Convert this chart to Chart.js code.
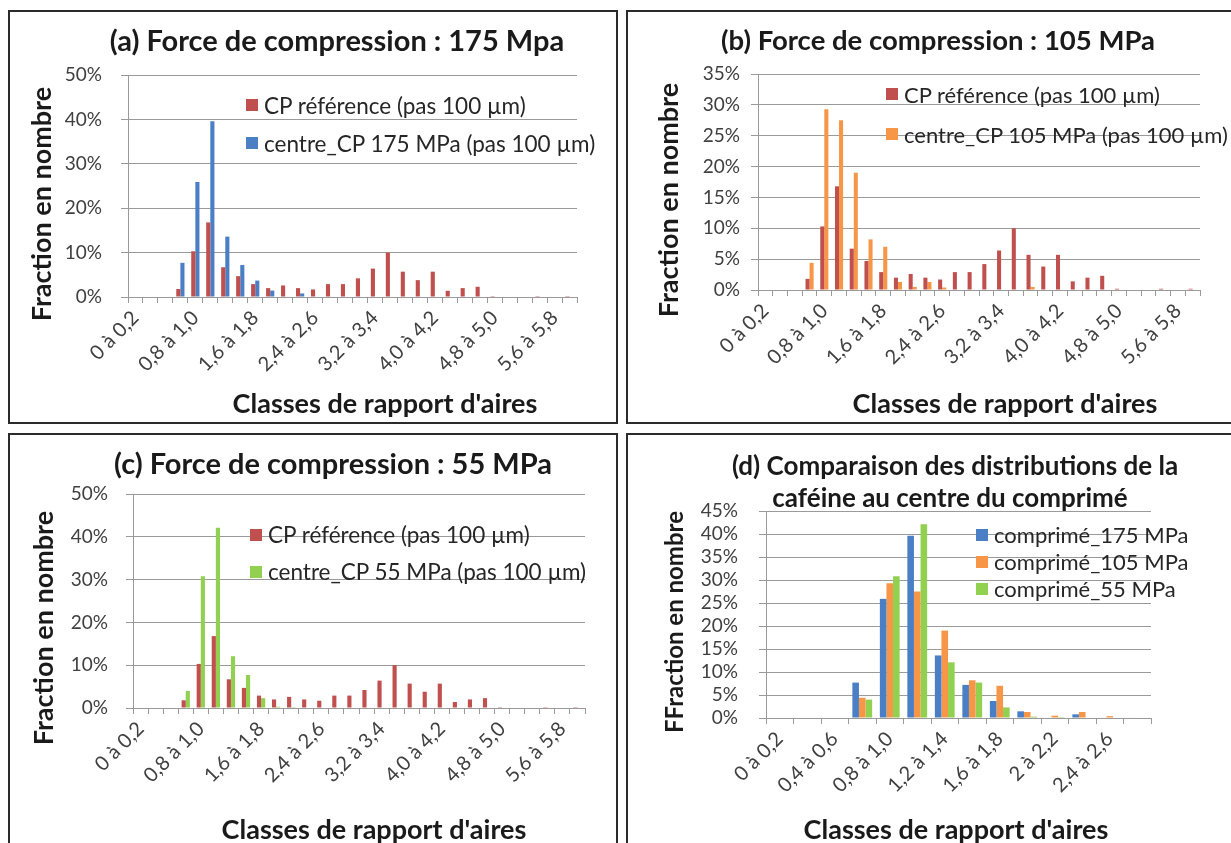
<!DOCTYPE html>
<html>
<head>
<meta charset="utf-8">
<script src="https://cdn.jsdelivr.net/npm/chart.js@4.4.0/dist/chart.umd.min.js"></script>
<style>
  body { margin: 0; width: 1231px; height: 843px; overflow: hidden; background: #fff; position: relative;
         font-family: Lato, "Open Sans", sans-serif; color: #1a1a1a; }
  .box { position: absolute; border: 2px solid #2b2b2b; box-sizing: border-box; }
  canvas { position: absolute; }
  .t { position: absolute; white-space: nowrap; font-weight: bold; transform: translate(-50%, -50%); }
  .rot { transform: translate(-50%, -50%) rotate(-90deg); }
  .leg { position: absolute; white-space: nowrap; color: #262626; }
  .leg div { display: flex; align-items: center; }
  .leg i { display: inline-block; width: 12px; height: 12px; margin-right: 6px; }
</style>
</head>
<body>
<div class="box" style="left:8px;top:10px;width:610px;height:414px"></div>
<div class="box" style="left:626px;top:10px;width:620px;height:414px"></div>
<div class="box" style="left:8px;top:433px;width:610px;height:420px"></div>
<div class="box" style="left:626px;top:433px;width:620px;height:420px"></div>

<canvas id="chartA" width="605" height="409" style="left:10px;top:12px"></canvas>
<canvas id="chartB" width="603" height="409" style="left:628px;top:12px"></canvas>
<canvas id="chartC" width="605" height="408" style="left:10px;top:435px"></canvas>
<canvas id="chartD" width="603" height="408" style="left:628px;top:435px"></canvas>

<script>
// classes de rapport d'aires (pas 0,2)
const classes30 = ["0 à 0,2", "0,2 à 0,4", "0,4 à 0,6", "0,6 à 0,8", "0,8 à 1,0", "1,0 à 1,2",
  "1,2 à 1,4", "1,4 à 1,6", "1,6 à 1,8", "1,8 à 2,0", "2,0 à 2,2", "2,2 à 2,4", "2,4 à 2,6",
  "2,6 à 2,8", "2,8 à 3,0", "3,0 à 3,2", "3,2 à 3,4", "3,4 à 3,6", "3,6 à 3,8", "3,8 à 4,0",
  "4,0 à 4,2", "4,2 à 4,4", "4,4 à 4,6", "4,6 à 4,8", "4,8 à 5,0", "5,0 à 5,2", "5,2 à 5,4",
  "5,4 à 5,6", "5,6 à 5,8", "5,8 à 6,0"];
const classes14 = ["0 à 0,2", "0,2 à 0,4", "0,4 à 0,6", "0,6 à 0,8", "0,8 à 1,0", "1,0 à 1,2",
  "1,2 à 1,4", "1,4 à 1,6", "1,6 à 1,8", "1,8 à 2", "2 à 2,2", "2,2 à 2,4", "2,4 à 2,6", "2,6 à 2,8"];

// fraction en nombre (%)
const cpReference = [0, 0, 0, 1.8, 10.3, 16.8, 6.7, 4.7, 2.9, 2.0, 2.6, 2.0, 1.7, 2.9, 2.9,
  4.2, 6.4, 10.0, 5.7, 3.8, 5.7, 1.4, 2.0, 2.3, 0.2, 0, 0, 0.2, 0, 0.2];
const centre175 = [0, 0, 0, 7.7, 25.9, 39.6, 13.6, 7.2, 3.7, 1.45, 0.1, 0.8, 0.1, 0.1, 0,
  0, 0, 0, 0, 0, 0, 0, 0, 0, 0, 0, 0, 0, 0, 0];
const centre105 = [0, 0, 0, 4.4, 29.3, 27.5, 19.0, 8.2, 7.0, 1.3, 0.5, 1.3, 0.4, 0, 0,
  0, 0, 0, 0.5, 0, 0, 0, 0, 0, 0, 0, 0, 0, 0, 0];
const centre55 = [0, 0, 0, 4.0, 30.8, 42.1, 12.1, 7.7, 2.3, 0.3, 0.2, 0, 0, 0, 0,
  0, 0, 0, 0, 0, 0, 0, 0, 0, 0, 0, 0, 0, 0, 0];

const RED = "#c0504d", BLUE = "#4a7fc6", ORANGE = "#f79646", GREEN = "#92d050";
const GRID = "#9a9a9a", TXT = "#404040";
const FONT = "Lato, 'Open Sans', sans-serif";

function text(str, x, y, size, rotate) {
  const d = document.createElement("div");
  d.className = rotate ? "t rot" : "t";
  d.style.left = x + "px";
  d.style.top = y + "px";
  d.style.fontSize = size + "px";
  d.textContent = str;
  document.body.appendChild(d);
}

function legend(items, x, y, rowH, size) {
  const d = document.createElement("div");
  d.className = "leg";
  d.style.left = x + "px";
  d.style.top = y + "px";
  d.style.fontSize = size + "px";
  items.forEach(([label, color]) => {
    const r = document.createElement("div");
    r.style.height = rowH + "px";
    r.innerHTML = '<i style="background:' + color + '"></i>';
    r.appendChild(document.createTextNode(label));
    d.appendChild(r);
  });
  document.body.appendChild(d);
}

function barChart(id, labels, series, o) {
  return new Chart(document.getElementById(id), {
    type: "bar",
    data: {
      labels: labels,
      datasets: series.map(([label, data, color]) => ({
        label: label, data: data, backgroundColor: color, borderWidth: 0,
        barPercentage: 1, categoryPercentage: o.catPct
      }))
    },
    options: {
      responsive: false,
      animation: false,
      devicePixelRatio: 1,
      layout: { padding: { left: 0, right: o.padRight, top: o.padTop, bottom: 0 } },
      plugins: { legend: { display: false }, tooltip: { enabled: false } },
      scales: {
        x: {
          grid: { drawOnChartArea: false, drawTicks: true, tickLength: 6, color: GRID, offset: true },
          border: { color: GRID },
          ticks: {
            autoSkip: false, minRotation: 45, maxRotation: 45, padding: 3, color: TXT,
            font: { family: FONT, size: 20 },
            callback: function (v, i) { return i % o.every === 0 ? this.getLabelForValue(v) : ""; }
          },
          afterFit: s => { s.height = o.xHeight; }
        },
        y: {
          min: 0, max: o.yMax,
          grid: { color: GRID, tickLength: 7 },
          border: { color: GRID },
          ticks: { stepSize: o.step, autoSkip: false, padding: o.yPad, color: TXT,
                   font: { family: FONT, size: 19 },
                   callback: v => Math.round(v) + "%" },
          afterFit: s => { s.width = o.yWidth; }
        }
      }
    }
  });
}

// (a)
barChart("chartA", classes30, [["CP référence (pas 100 µm)", cpReference, RED],
  ["centre_CP 175 MPa (pas 100 µm)", centre175, BLUE]],
  { catPct: 0.55, padRight: 38, padTop: 63, xHeight: 124, yWidth: 118, yMax: 50, step: 10, every: 4, yPad: 19 });
text("(a) Force de compression : 175 Mpa", 337, 39, 29);
text("Fraction en nombre", 40, 204, 27, true);
text("Classes de rapport d'aires", 385, 402, 27);
legend([["CP référence (pas 100 µm)", RED], ["centre_CP 175 MPa (pas 100 µm)", BLUE]], 246, 86, 38, 22.5);

// (b)
barChart("chartB", classes30, [["CP référence (pas 100 µm)", cpReference, RED],
  ["centre_CP 105 MPa (pas 100 µm)", centre105, ORANGE]],
  { catPct: 0.55, padRight: 31, padTop: 62, xHeight: 131, yWidth: 130, yMax: 35, step: 5, every: 4, yPad: 11 });
text("(b) Force de compression : 105 MPa", 938, 39, 27.5);
text("Fraction en nombre", 667, 200, 27, true);
text("Classes de rapport d'aires", 1005, 402, 27);
legend([["CP référence (pas 100 µm)", RED], ["centre_CP 105 MPa (pas 100 µm)", ORANGE]], 886, 74, 40, 22);

// (c)
barChart("chartC", classes30, [["CP référence (pas 100 µm)", cpReference, RED],
  ["centre_CP 55 MPa (pas 100 µm)", centre55, GREEN]],
  { catPct: 0.55, padRight: 30, padTop: 59, xHeight: 135, yWidth: 123, yMax: 50, step: 10, every: 4, yPad: 18 });
text("(c) Force de compression : 55 MPa", 333, 462, 29);
text("Fraction en nombre", 42, 628, 27, true);
text("Classes de rapport d'aires", 374, 828, 27);
legend([["CP référence (pas 100 µm)", RED], ["centre_CP 55 MPa (pas 100 µm)", GREEN]], 250, 516, 37, 22.5);

// (d)
barChart("chartD", classes14, [["comprimé_175 MPa", centre175.slice(0, 14), BLUE],
  ["comprimé_105 MPa", centre105.slice(0, 14), ORANGE],
  ["comprimé_55 MPa", centre55.slice(0, 14), GREEN]],
  { catPct: 0.72, padRight: 80, padTop: 76, xHeight: 125, yWidth: 138, yMax: 45, step: 5, every: 2, yPad: 21 });
text("(d) Comparaison des distributions de la", 955, 465, 26);
text("caféine au centre du comprimé", 950, 497, 26);
text("FFraction en nombre", 673, 622, 24, true);
text("Classes de rapport d'aires", 956, 828, 27);
legend([["comprimé_175 MPa", BLUE], ["comprimé_105 MPa", ORANGE], ["comprimé_55 MPa", GREEN]], 976, 521, 27, 22);
</script>
</body>
</html>
